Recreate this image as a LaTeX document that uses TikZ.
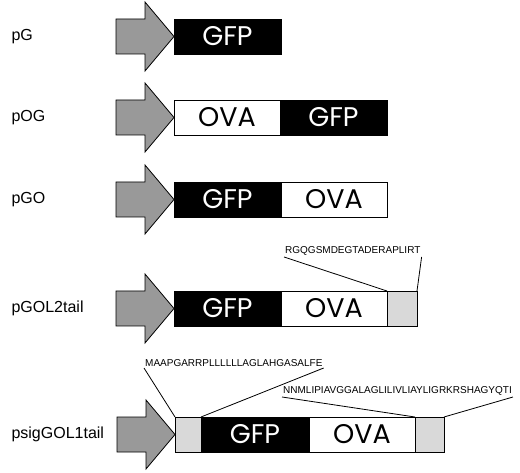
\documentclass[tikz,border=0pt]{standalone}
\usepackage{fontspec}
\setmainfont{Liberation Sans}
\newfontfamily\boxfont{Poppins}
\usetikzlibrary{positioning}

\tikzset{
  promoter/.pic={
    \draw[line width=0.8pt, fill=black!40, line join=miter]
      (0,0) -- (-29,34.5) -- (-29,17.5) -- (-58,17.5) -- (-58,-17.5)
      -- (-29,-17.5) -- (-29,-34.5) -- cycle;
  }
}

\begin{document}
\begin{tikzpicture}[x=1pt, y=1pt,
  seg/.style={draw, line width=0.8pt, minimum height=35pt, inner sep=0pt, outer sep=0pt,
    font=\boxfont\fontsize{27}{27}\selectfont},
  gfp/.style={seg, fill=black, text=white, minimum width=107pt},
  ova/.style={seg, fill=white, minimum width=106pt},
  tail/.style={seg, fill=black!15, minimum width=29pt},
  plasmid/.style={anchor=west, font=\fontsize{16}{16}\selectfont},
  pep/.style={anchor=south west, inner sep=1pt, font=\fontsize{10}{10}\selectfont},
  link/.style={line width=0.8pt},
]
  \useasboundingbox (0,0) rectangle (520,472);

  % pG
  \node[plasmid] (nG) at (8,435.5) {pG};
  \node[gfp, anchor=west] (gfpA) at (174,435.5) {GFP};
  \pic at (gfpA.west) {promoter};

  % pOG
  \node[plasmid] (nOG) at (8,354.5) {pOG};
  \node[ova, anchor=west] (ovaB) at (174,354.5) {OVA};
  \node[gfp, right=0pt of ovaB] (gfpB) {GFP};
  \pic at (ovaB.west) {promoter};

  % pGO
  \node[plasmid] (nGO) at (8,272.5) {pGO};
  \node[gfp, anchor=west] (gfpC) at (174,272.5) {GFP};
  \node[ova, right=0pt of gfpC] (ovaC) {OVA};
  \pic at (gfpC.west) {promoter};

  % pGOL2tail
  \node[plasmid] (nGOL) at (8,163.5) {pGOL2tail};
  \node[gfp, anchor=west] (gfpD) at (174,163.5) {GFP};
  \node[ova, right=0pt of gfpD] (ovaD) {OVA};
  \node[tail, minimum width=30pt, right=0pt of ovaD] (tailD) {};
  \pic at (gfpD.west) {promoter};
  \node[pep] (pepD) at (284,215) {RGQGSMDEGTADERAPLIRT};
  \draw[link] (pepD.south west) -- (tailD.north west);
  \draw[link] (pepD.south east) -- (tailD.north east);

  % psigGOL1tail
  \node[plasmid] (nsig) at (8,37.5) {psigGOL1tail};
  \node[tail, minimum width=26pt, anchor=west] (sigE) at (175,37.5) {};
  \node[gfp, minimum width=108pt, right=0pt of sigE] (gfpE) {GFP};
  \node[ova, right=0pt of gfpE] (ovaE) {OVA};
  \node[tail, right=0pt of ovaE] (tailE) {};
  \pic at (sigE.west) {promoter};
  \node[pep] (pepSig) at (144,104) {MAAPGARRPLLLLLLAGLAHGASALFE};
  \node[pep] (pepTail) at (282,75) {NNMLIPIAVGGALAGLILIVLIAYLIGRKRSHAGYQTI};
  \draw[link] (pepSig.south west) -- (sigE.north west);
  \draw[link] (pepSig.south east) -- (sigE.north east);
  \draw[link] (pepTail.south west) -- (tailE.north west);
  \draw[link] (pepTail.south east) -- (tailE.north east);
\end{tikzpicture}
\end{document}
